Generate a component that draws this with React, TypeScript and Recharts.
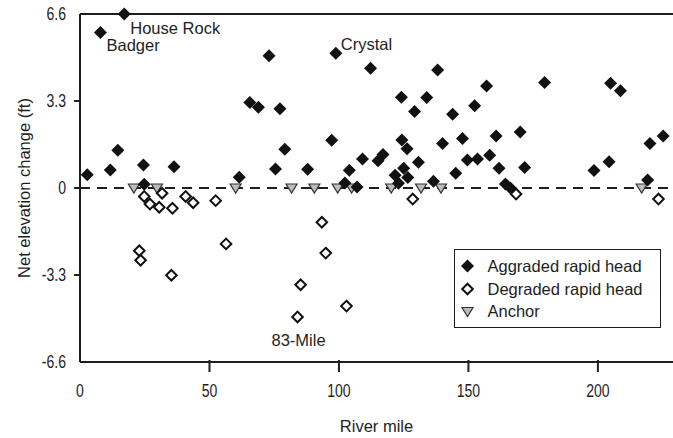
import { ScatterChart, Scatter, XAxis, YAxis, ReferenceLine, Legend } from 'recharts';

const FONT = "'Liberation Sans', Arial, sans-serif";
const INK = '#1e1e1e';
const FS = 16.5;

// River mile vs net elevation change (ft)
const aggraded = [
  { mile: 2.8, change: 0.5 }, { mile: 7.9, change: 5.9 }, { mile: 11.7, change: 0.68 },
  { mile: 14.6, change: 1.43 }, { mile: 17.1, change: 6.6 }, { mile: 24.5, change: 0.87 },
  { mile: 24.8, change: 0.14 }, { mile: 36.3, change: 0.81 }, { mile: 61.5, change: 0.41 },
  { mile: 65.6, change: 3.24 }, { mile: 68.9, change: 3.06 }, { mile: 73.0, change: 5.02 },
  { mile: 75.5, change: 0.72 }, { mile: 77.2, change: 3.01 }, { mile: 79.1, change: 1.47 },
  { mile: 87.9, change: 0.71 }, { mile: 97.2, change: 1.81 }, { mile: 98.8, change: 5.11 },
  { mile: 102.3, change: 0.19 }, { mile: 104.0, change: 0.67 }, { mile: 107.0, change: 0.04 },
  { mile: 109.1, change: 1.1 }, { mile: 112.2, change: 4.54 }, { mile: 115.1, change: 1.03 },
  { mile: 117.0, change: 1.27 }, { mile: 121.7, change: 0.48 }, { mile: 123.0, change: 0.18 },
  { mile: 124.1, change: 3.44 }, { mile: 124.3, change: 1.82 }, { mile: 125.0, change: 0.75 },
  { mile: 126.3, change: 1.49 }, { mile: 126.6, change: 0.4 }, { mile: 129.2, change: 2.9 },
  { mile: 130.7, change: 0.98 }, { mile: 133.9, change: 3.43 }, { mile: 136.5, change: 0.26 },
  { mile: 138.1, change: 4.48 }, { mile: 140.0, change: 1.69 }, { mile: 143.9, change: 2.8 },
  { mile: 145.1, change: 0.56 }, { mile: 147.7, change: 1.88 }, { mile: 149.6, change: 1.06 },
  { mile: 152.4, change: 3.12 }, { mile: 153.5, change: 1.1 }, { mile: 157.0, change: 3.87 },
  { mile: 158.2, change: 1.24 }, { mile: 160.7, change: 1.97 }, { mile: 161.8, change: 0.75 },
  { mile: 164.3, change: 0.15 }, { mile: 166.2, change: 0.0 }, { mile: 170.0, change: 2.12 },
  { mile: 171.7, change: 0.78 }, { mile: 179.4, change: 4.0 }, { mile: 198.5, change: 0.66 },
  { mile: 204.3, change: 1.0 }, { mile: 204.9, change: 3.97 }, { mile: 208.7, change: 3.69 },
  { mile: 219.2, change: 0.3 }, { mile: 220.1, change: 1.69 }, { mile: 225.2, change: 1.97 },
];

const degraded = [
  { mile: 22.9, change: -2.38 }, { mile: 23.4, change: -2.74 }, { mile: 24.8, change: -0.32 },
  { mile: 27.0, change: -0.61 }, { mile: 30.6, change: -0.73 }, { mile: 31.7, change: -0.2 },
  { mile: 35.3, change: -3.31 }, { mile: 35.7, change: -0.77 }, { mile: 40.8, change: -0.32 },
  { mile: 43.7, change: -0.56 }, { mile: 52.4, change: -0.48 }, { mile: 56.4, change: -2.12 },
  { mile: 84.0, change: -4.89 }, { mile: 85.2, change: -3.67 }, { mile: 93.4, change: -1.3 },
  { mile: 94.9, change: -2.47 }, { mile: 102.9, change: -4.48 }, { mile: 128.5, change: -0.42 },
  { mile: 168.4, change: -0.23 }, { mile: 223.4, change: -0.42 },
];

const anchors = [
  { mile: 20.8, change: 0 }, { mile: 29.7, change: 0 }, { mile: 60.1, change: 0 },
  { mile: 81.7, change: 0 }, { mile: 90.5, change: 0 }, { mile: 99.5, change: 0 },
  { mile: 104.9, change: 0 }, { mile: 120.2, change: 0 }, { mile: 131.7, change: 0 },
  { mile: 139.4, change: 0 }, { mile: 216.9, change: 0 },
];

// named rapids, with text offset from the point
const rapidNames = [
  { mile: 17.1, change: 6.6, text: 'House Rock', dx: 6, dy: 20, anchor: 'start' },
  { mile: 7.9, change: 5.9, text: 'Badger', dx: 6, dy: 19, anchor: 'start' },
  { mile: 98.8, change: 5.11, text: 'Crystal', dx: 5, dy: -3, anchor: 'start' },
  { mile: 84.0, change: -4.89, text: '83-Mile', dx: 1, dy: 29, anchor: 'middle' },
];

const xTicks = [0, 50, 100, 150, 200];
const yTicks = [-6.6, -3.3, 0, 3.3, 6.6];

const legendItems = [
  { key: 'aggraded', label: 'Aggraded rapid head' },
  { key: 'degraded', label: 'Degraded rapid head' },
  { key: 'anchor', label: 'Anchor' },
];

const FilledDiamond = ({ cx, cy }: any) => (
  <path d={`M${cx},${cy - 6.5}L${cx + 6.5},${cy}L${cx},${cy + 6.5}L${cx - 6.5},${cy}Z`} fill="#111" />
);

const OpenDiamond = ({ cx, cy }: any) => (
  <path
    d={`M${cx},${cy - 5.3}L${cx + 5.3},${cy}L${cx},${cy + 5.3}L${cx - 5.3},${cy}Z`}
    fill="#fff"
    stroke="#111"
    strokeWidth={2}
  />
);

const AnchorTriangle = ({ cx, cy }: any) => (
  <path
    d={`M${cx - 5.5},${cy - 4}L${cx + 5.5},${cy - 4}L${cx},${cy + 5}Z`}
    fill="#bdbdbd"
    stroke="#333"
    strokeWidth={1.2}
  />
);

const NameText = (props: any) => {
  const { cx, cy, payload } = props;
  return (
    <text x={cx + payload.dx} y={cy + payload.dy} textAnchor={payload.anchor} fontSize={FS} fill={INK}>
      {payload.text}
    </text>
  );
};

const markerFor = (key: string, cx: number, cy: number) => {
  if (key === 'aggraded') return <FilledDiamond cx={cx} cy={cy} />;
  if (key === 'degraded') return <OpenDiamond cx={cx} cy={cy} />;
  return <AnchorTriangle cx={cx} cy={cy + 0.5} />;
};

const LegendBox = () => (
  <div
    style={{
      border: `1.5px solid ${INK}`,
      background: '#fff',
      width: 207,
      height: 79,
      boxSizing: 'border-box',
      paddingTop: 5,
      fontSize: FS,
      color: INK,
      whiteSpace: 'nowrap',
    }}
  >
    {legendItems.map(item => (
      <div key={item.key} style={{ display: 'flex', alignItems: 'center', height: 22.5 }}>
        <svg width={32.5} height={22} style={{ flex: 'none' }}>
          {markerFor(item.key, 12.5, 11)}
        </svg>
        <span style={{ lineHeight: '22px' }}>{item.label}</span>
      </div>
    ))}
  </div>
);

// numbers in the reference are set in a condensed face
const NarrowText = ({ x, y, anchor, dy, children }: any) => (
  <g transform={`translate(${x},${y}) scale(0.78,1)`}>
    <text x={0} y={0} dy={dy} textAnchor={anchor} fontSize={18} fill={INK}>
      {children}
    </text>
  </g>
);

// x tick: mark below the axis (none at 0) and the label
const XTick = (props: any) => {
  const { x, y, payload } = props;
  return (
    <g>
      {payload.value !== 0 && <line x1={x} x2={x} y1={y - 22} y2={y - 10} stroke={INK} strokeWidth={2} />}
      <NarrowText x={x} y={y + 15} anchor="middle" dy={0}>
        {payload.value}
      </NarrowText>
    </g>
  );
};

// y tick: short outside mark only on inner ticks
const YTick = (props: any) => {
  const { x, y, payload } = props;
  const edge = Math.abs(payload.value) === 6.6;
  return (
    <g>
      {!edge && <line x1={x + 8} x2={x + 14} y1={y} y2={y} stroke={INK} strokeWidth={2} />}
      <NarrowText x={x} y={y} anchor="end" dy="0.36em">
        {payload.value}
      </NarrowText>
    </g>
  );
};

export default function App() {
  return (
    <div style={{ position: 'absolute', left: 0, top: 0, fontFamily: FONT, background: '#fff' }}>
      <ScatterChart width={673} height={438} margin={{ top: 14, right: 0, bottom: 0, left: 0 }}>
        <XAxis
          type="number"
          dataKey="mile"
          domain={[0, 229]}
          ticks={xTicks}
          height={76}
          tickSize={10}
          tickMargin={10}
          tickLine={false}
          axisLine={{ stroke: INK, strokeWidth: 2 }}
          tick={<XTick />}
          label={({ viewBox }: any) => (
            <text x={viewBox.x + viewBox.width / 2} y={432} textAnchor="middle" fontSize={FS} fill={INK}>
              River mile
            </text>
          )}
        />
        <YAxis
          type="number"
          dataKey="change"
          domain={[-6.6, 6.6]}
          ticks={yTicks}
          width={80}
          tickSize={6}
          tickMargin={8}
          tickLine={false}
          axisLine={{ stroke: INK, strokeWidth: 2 }}
          tick={<YTick />}
          label={({ viewBox }: any) => {
            const cy = viewBox.y + viewBox.height / 2;
            return (
              <text
                x={24}
                y={cy}
                transform={`rotate(-90, 24, ${cy})`}
                textAnchor="middle"
                dominantBaseline="central"
                fontSize={FS}
                fill={INK}
              >
                Net elevation change (ft)
              </text>
            );
          }}
        />
        <ReferenceLine y={6.6} stroke={INK} strokeWidth={2} />
        <ReferenceLine y={0} stroke={INK} strokeWidth={2} strokeDasharray="10 7" />
        <Scatter name="Anchor" data={anchors} shape={<AnchorTriangle />} isAnimationActive={false} />
        <Scatter name="Degraded rapid head" data={degraded} shape={<OpenDiamond />} isAnimationActive={false} />
        <Scatter name="Aggraded rapid head" data={aggraded} shape={<FilledDiamond />} isAnimationActive={false} />
        <Scatter name="names" data={rapidNames} shape={<NameText />} legendType="none" isAnimationActive={false} />
        <Legend
          layout="vertical"
          align="center"
          verticalAlign="middle"
          content={<LegendBox />}
          wrapperStyle={{ left: 454, top: 249, width: 207, height: 79 }}
        />
      </ScatterChart>
    </div>
  );
}
